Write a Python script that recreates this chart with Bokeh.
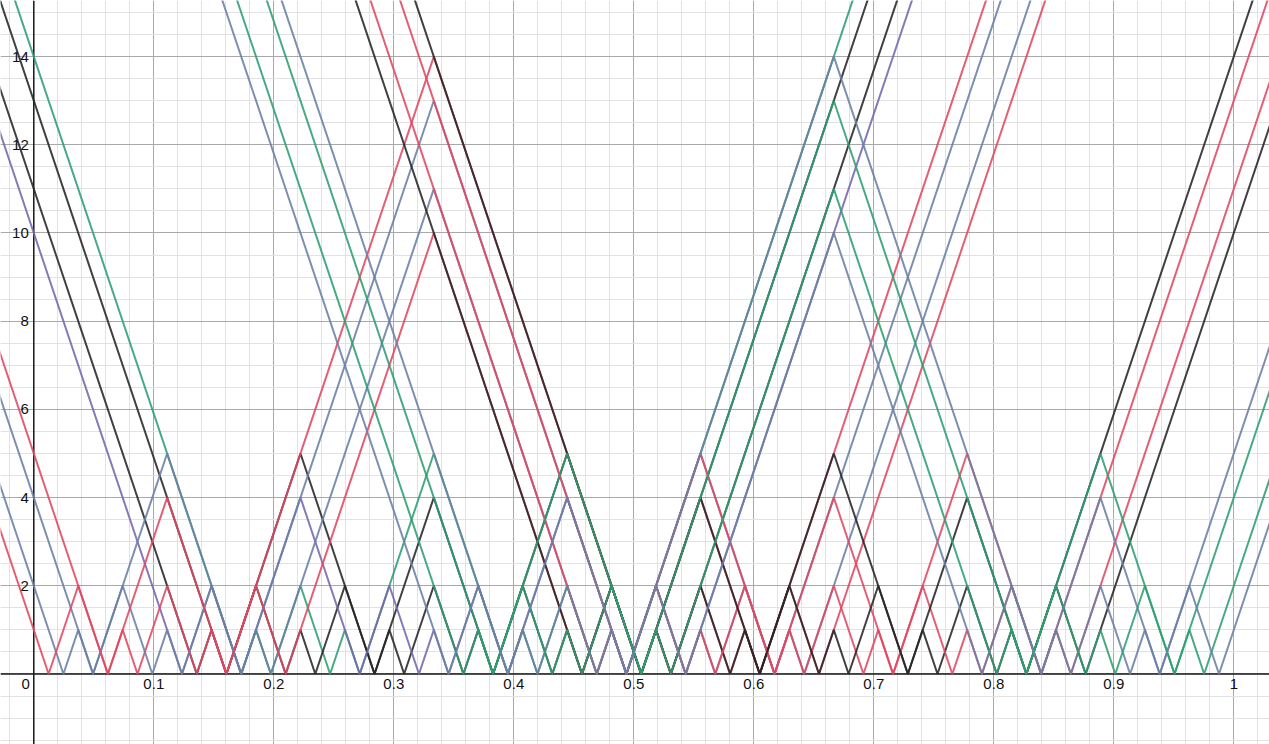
from bokeh.plotting import figure
from bokeh.models import Grid, SingleIntervalTicker, Span, ColumnDataSource
from bokeh.embed import file_html
from bokeh.resources import INLINE
from bokeh.core.properties import value

# x positions are in units of 1/81 (zeros of every zig-zag fall on k/81)
X_UNIT = 81.0

# a=1 family
x81_f1111 = [-3, 14, 15, 16, 18, 20, 21, 22, 27, 32, 33, 34, 36, 38, 39, 40, 84]
y_f1111 = [17, 0, 1, 0, 2, 0, 1, 0, 5, 0, 1, 0, 2, 0, 1, 0, 44]
x81_f1112 = [-3, 13, 15, 17, 18, 19, 21, 23, 27, 31, 33, 35, 36, 37, 39, 41, 84]
y_f1112 = [16, 0, 2, 0, 1, 0, 2, 0, 4, 0, 2, 0, 1, 0, 2, 0, 43]
x81_f1121 = [-3, 11, 12, 13, 18, 23, 24, 25, 27, 29, 30, 31, 36, 41, 42, 43, 84]
y_f1121 = [14, 0, 1, 0, 5, 0, 1, 0, 2, 0, 1, 0, 5, 0, 1, 0, 41]
x81_f1122 = [-3, 10, 12, 14, 18, 22, 24, 26, 27, 28, 30, 32, 36, 40, 42, 44, 84]
y_f1122 = [13, 0, 2, 0, 4, 0, 2, 0, 1, 0, 2, 0, 4, 0, 2, 0, 40]
x81_f1211 = [-3, 5, 6, 7, 9, 11, 12, 13, 27, 41, 42, 43, 45, 47, 48, 49, 84]
y_f1211 = [8, 0, 1, 0, 2, 0, 1, 0, 14, 0, 1, 0, 2, 0, 1, 0, 35]
x81_f1212 = [-3, 4, 6, 8, 9, 10, 12, 14, 27, 40, 42, 44, 45, 46, 48, 50, 84]
y_f1212 = [7, 0, 2, 0, 1, 0, 2, 0, 13, 0, 2, 0, 1, 0, 2, 0, 34]
x81_f1221 = [-3, 2, 3, 4, 9, 14, 15, 16, 27, 38, 39, 40, 45, 50, 51, 52, 84]
y_f1221 = [5, 0, 1, 0, 5, 0, 1, 0, 11, 0, 1, 0, 5, 0, 1, 0, 32]
x81_f1222 = [-3, 1, 3, 5, 9, 13, 15, 17, 27, 37, 39, 41, 45, 49, 51, 53, 84]
y_f1222 = [4, 0, 2, 0, 4, 0, 2, 0, 10, 0, 2, 0, 4, 0, 2, 0, 31]

# a=2 family
x81_f2111 = [-3, 41, 42, 43, 45, 47, 48, 49, 54, 59, 60, 61, 63, 65, 66, 67, 84]
y_f2111 = [44, 0, 1, 0, 2, 0, 1, 0, 5, 0, 1, 0, 2, 0, 1, 0, 17]
x81_f2112 = [-3, 40, 42, 44, 45, 46, 48, 50, 54, 58, 60, 62, 63, 64, 66, 68, 84]
y_f2112 = [43, 0, 2, 0, 1, 0, 2, 0, 4, 0, 2, 0, 1, 0, 2, 0, 16]
x81_f2121 = [-3, 38, 39, 40, 45, 50, 51, 52, 54, 56, 57, 58, 63, 68, 69, 70, 84]
y_f2121 = [41, 0, 1, 0, 5, 0, 1, 0, 2, 0, 1, 0, 5, 0, 1, 0, 14]
x81_f2122 = [-3, 37, 39, 41, 45, 49, 51, 53, 54, 55, 57, 59, 63, 67, 69, 71, 84]
y_f2122 = [40, 0, 2, 0, 4, 0, 2, 0, 1, 0, 2, 0, 4, 0, 2, 0, 13]
x81_f2211 = [-3, 32, 33, 34, 36, 38, 39, 40, 54, 68, 69, 70, 72, 74, 75, 76, 84]
y_f2211 = [35, 0, 1, 0, 2, 0, 1, 0, 14, 0, 1, 0, 2, 0, 1, 0, 8]
x81_f2212 = [-3, 31, 33, 35, 36, 37, 39, 41, 54, 67, 69, 71, 72, 73, 75, 77, 84]
y_f2212 = [34, 0, 2, 0, 1, 0, 2, 0, 13, 0, 2, 0, 1, 0, 2, 0, 7]
x81_f2221 = [-3, 29, 30, 31, 36, 41, 42, 43, 54, 65, 66, 67, 72, 77, 78, 79, 84]
y_f2221 = [32, 0, 1, 0, 5, 0, 1, 0, 11, 0, 1, 0, 5, 0, 1, 0, 5]
x81_f2222 = [-3, 28, 30, 32, 36, 40, 42, 44, 54, 64, 66, 68, 72, 76, 78, 80, 84]
y_f2222 = [31, 0, 2, 0, 4, 0, 2, 0, 10, 0, 2, 0, 4, 0, 2, 0, 4]

# tick labels
x_tick_values = [0.1, 0.2, 0.3, 0.4, 0.5, 0.6, 0.7, 0.8, 0.9, 1.0]
x_tick_labels = ["0.1", "0.2", "0.3", "0.4", "0.5", "0.6", "0.7", "0.8", "0.9", "1"]
y_tick_values = [2, 4, 6, 8, 10, 12, 14]
y_tick_labels = ["2", "4", "6", "8", "10", "12", "14"]

RED = "#e04862"
GREEN = "#2f9e72"
BLACK = "#262626"
SLATE = "#6b7fa6"
PURPLE = "#7567ad"

series = [
    (x81_f1111, y_f1111, GREEN),
    (x81_f1112, y_f1112, BLACK),
    (x81_f1121, y_f1121, BLACK),
    (x81_f1122, y_f1122, PURPLE),
    (x81_f1211, y_f1211, RED),
    (x81_f1212, y_f1212, SLATE),
    (x81_f1221, y_f1221, SLATE),
    (x81_f1222, y_f1222, RED),
    (x81_f2111, y_f2111, BLACK),
    (x81_f2112, y_f2112, RED),
    (x81_f2121, y_f2121, RED),
    (x81_f2122, y_f2122, BLACK),
    (x81_f2211, y_f2211, SLATE),
    (x81_f2212, y_f2212, GREEN),
    (x81_f2221, y_f2221, GREEN),
    (x81_f2222, y_f2222, SLATE),
]

p = figure(width=1269, height=744,
           x_range=(-0.02775, 1.02975), y_range=(-1.599, 15.272),
           output_backend="svg", toolbar_location=None,
           x_axis_type=None, y_axis_type=None,
           min_border=0, outline_line_color=None,
           background_fill_color="white", border_fill_color="white")

xg = Grid(dimension=0, ticker=SingleIntervalTicker(interval=0.1, num_minor_ticks=5),
          grid_line_color="#a9a9a9", grid_line_width=1,
          minor_grid_line_color="#e2e2e2", minor_grid_line_width=1)
yg = Grid(dimension=1, ticker=SingleIntervalTicker(interval=2, num_minor_ticks=4),
          grid_line_color="#a9a9a9", grid_line_width=1,
          minor_grid_line_color="#e2e2e2", minor_grid_line_width=1)
p.add_layout(xg)
p.add_layout(yg)

p.add_layout(Span(location=0, dimension="width", line_color="#1a1a1a",
                  line_width=1.5, level="underlay"))
p.add_layout(Span(location=0, dimension="height", line_color="#1a1a1a",
                  line_width=1.5, level="underlay"))

for xs81, ys, col in series:
    src = ColumnDataSource(dict(x=[v / X_UNIT for v in xs81], y=ys))
    p.line("x", "y", source=src, line_color=col, line_width=2, line_alpha=0.88)

font = value("Liberation Sans")
p.text(x=x_tick_values, y=[0] * len(x_tick_values), text=x_tick_labels,
       text_align="center", text_baseline="top", y_offset=5,
       text_font=font, text_font_size="15px", text_color="#111111")
p.text(x=[0] * len(y_tick_values), y=y_tick_values, text=y_tick_labels,
       text_align="right", text_baseline="middle", x_offset=-5,
       text_font=font, text_font_size="15px", text_color="#111111")
p.text(x=[0], y=[0], text=["0"], text_align="right", text_baseline="top",
       x_offset=-4, y_offset=5,
       text_font=font, text_font_size="15px", text_color="#111111")

open("out.html", "w").write(file_html(p, INLINE))
